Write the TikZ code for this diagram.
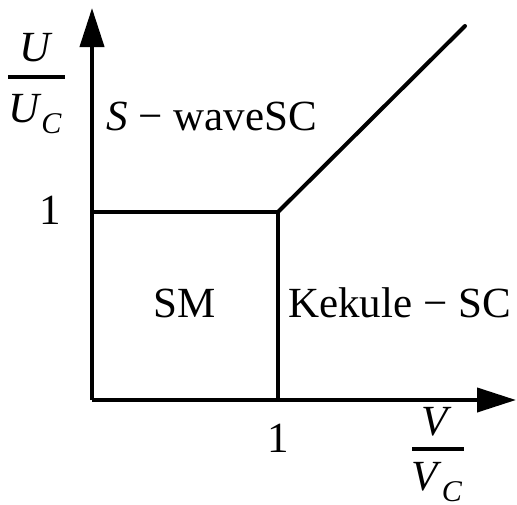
\documentclass[tikz,border=0pt]{standalone}
\usepackage{amsmath}
\usepackage{fontspec}
\setmainfont{Liberation Serif}
\usepackage{tikz}
\usetikzlibrary{arrows.meta, positioning}
\tikzset{
  axisline/.style={
    line width=4pt,
    -{Triangle[length=39pt,width=24pt]}
  },
  phaseline/.style={
    line width=4pt
  },
  fracbar/.style={
    line width=4pt
  },
  phaselabel/.style={
    inner sep=0pt,
    font=\fontsize{43}{50}\selectfont
  }
}

\begin{document}
\begin{tikzpicture}[x=1pt, y=-1pt]
  \useasboundingbox (0,0) rectangle (517,504);

  % Axes
  \coordinate (O) at (92,400);
  \coordinate (ytip) at (92,8);
  \coordinate (xtip) at (516,400);
  \draw[axisline] (O) -- (ytip);
  \draw[axisline] (O) -- (xtip);

  % Phase boundaries
  \coordinate (ystart) at (92,212);
  \coordinate (corner) at (278,212);
  \coordinate (xstart) at (278,400);
  \coordinate (diagend) at (465,26);
  \draw[phaseline, line join=miter] (ystart) -- (corner) -- (xstart);
  \draw[phaseline, line cap=round] (corner) -- (diagend);

  % Axis labels: U / U_C
  \node[phaselabel, anchor=base] (unum) at (36,61) {\textit{U}};
  \node[phaselabel, anchor=base] (uden) at (35,122) {\textit{U}$_{\textit{C}}$};
  \coordinate (ubarl) at (8,77);
  \coordinate (ubarr) at (65,77);
  \draw[fracbar] (ubarl) -- (ubarr);

  % Axis labels: V / V_C
  \node[phaselabel, anchor=base] (vnum) at (437,435) {\textit{V}};
  \node[phaselabel, anchor=base] (vden) at (437,490) {\textit{V}$_{\textit{C}}$};
  \coordinate (vbarl) at (412,449);
  \coordinate (vbarr) at (464,449);
  \draw[fracbar] (vbarl) -- (vbarr);

  \node[phaselabel, anchor=base] (yone) at (50,224) {1};
  \node[phaselabel, anchor=base] (xone) at (278,452) {1};

  % Phase names
  \node[phaselabel, anchor=base west] (swave) at (106,130) {\textit{S} − waveSC};
  \node[phaselabel, anchor=base] (sm) at (185,317) {SM};
  \node[phaselabel, anchor=base west] (kekule) at (288,317) {Kekule − SC};
\end{tikzpicture}
\end{document}
